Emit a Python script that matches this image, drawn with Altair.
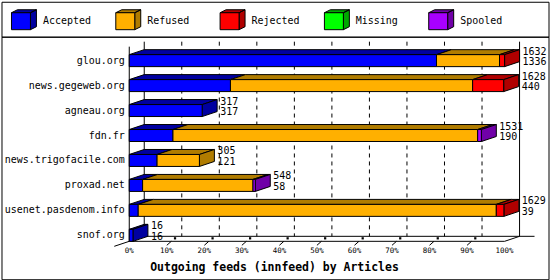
import altair as alt
import pandas as pd

# ---------------- data ----------------
hosts = ["glou.org", "news.gegeweb.org", "agneau.org", "fdn.fr",
         "news.trigofacile.com", "proxad.net", "usenet.pasdenom.info", "snof.org"]
accepted = [1336, 440, 317, 190, 121, 58, 39, 16]
refused = [274, 1053, 0, 1325, 184, 480, 1557, 0]
rejected = [22, 135, 0, 0, 0, 0, 33, 0]
missing = [0, 0, 0, 0, 0, 0, 0, 0]
spooled = [0, 0, 0, 16, 0, 10, 0, 0]
offered = [1632, 1628, 317, 1531, 305, 548, 1629, 16]

categories = ["Accepted", "Refused", "Rejected", "Missing", "Spooled"]
tick_values = [0, 10, 20, 30, 40, 50, 60, 70, 80, 90, 100]
tick_labels = ["0%", "10%", "20%", "30%", "40%", "50%", "60%", "70%", "80%", "90%", "100%"]
title_text = "Outgoing feeds (innfeed) by Articles"

# ---------------- style ----------------
front_colors = ["#0000FF", "#FFB000", "#FF0000", "#00FF00", "#A800FF"]
dark_colors = ["#0000A0", "#B07C00", "#B00000", "#00A800", "#7000A8"]
MONO = "DejaVu Sans Mono"

X_RANGE = [128, 504]
Y_RANGE = [24, 199]
HALF = 0.24           # half bar height (row units)
DY = 0.2              # 3D depth, vertical (row units)
DX = 15 * 100 / 376   # 3D depth, horizontal (percent units)

xs = alt.Scale(domain=[0, 100], range=X_RANGE, nice=False, zero=False)
ys = alt.Scale(domain=[0, 7], range=Y_RANGE, nice=False, zero=False)
front_scale = alt.Scale(domain=categories, range=front_colors)
dark_scale = alt.Scale(domain=categories, range=dark_colors)

series = dict(zip(categories, [accepted, refused, rejected, missing, spooled]))
vmax = max(offered)

seg_rows, top_rows, side_rows = [], [], []
for i, h in enumerate(hosts):
    cum = 0
    last = None
    for c in categories:
        v = series[c][i]
        if v <= 0:
            continue
        x0 = cum / vmax * 100
        cum += v
        x1 = cum / vmax * 100
        sid = f"{i}-{c}"
        seg_rows.append(dict(i=i, cat=c, x0=x0, x1=x1, yt=i - HALF, yb=i + HALF))
        top_rows.append(dict(sid=sid, cat=c, y=i - HALF, xa=x0, xb=x1))
        top_rows.append(dict(sid=sid, cat=c, y=i - HALF - DY, xa=x0 + DX, xb=x1 + DX))
        last = (c, x1)
    if last:
        c, x1 = last
        side_rows.append(dict(i=i, cat=c, x=x1, yt=i - HALF, yb=i + HALF))
        side_rows.append(dict(i=i, cat=c, x=x1 + DX, yt=i - HALF - DY, yb=i + HALF - DY))

seg_df = pd.DataFrame(seg_rows)
top_df = pd.DataFrame(top_rows)
side_df = pd.DataFrame(side_rows)

label_df = pd.DataFrame({
    "i": list(range(len(hosts))),
    "host": hosts,
    "lx": [o / vmax * 100 + DX for o in offered],
    "top": [str(o) for o in offered],
    "bottom": [str(a) for a in accepted],
})

TOP_Y = -0.76
FLOOR_F = 7 + HALF
FLOOR_B = 7 + HALF - DY
solid_lines = pd.DataFrame([
    dict(x=0, x2=0, y=TOP_Y + DY, y2=FLOOR_F),
    dict(x=DX, x2=DX, y=TOP_Y, y2=FLOOR_B),
    dict(x=100 + DX, x2=100 + DX, y=TOP_Y, y2=FLOOR_B),
    dict(x=0, x2=100, y=FLOOR_F, y2=FLOOR_F),
    dict(x=DX, x2=100 + 2 * DX, y=FLOOR_B, y2=FLOOR_B),
    dict(x=-DX, x2=0, y=FLOOR_F + DY, y2=FLOOR_F),
    dict(x=100, x2=100 + DX, y=FLOOR_F, y2=FLOOR_B),
])
grid_df = pd.DataFrame({"x": [v + DX for v in tick_values[1:-1]]})
grid_df["x2"] = grid_df["x"]
grid_df["y"] = TOP_Y
grid_df["y2"] = FLOOR_B

ticks_df = pd.DataFrame({"v": tick_values, "lab": tick_labels})
tick_marks = pd.DataFrame({"x": tick_values[1:-1]})
tick_marks["x2"] = tick_marks["x"] + 0.3 * DX
tick_marks["y"] = FLOOR_F + 0.16
tick_marks["y2"] = FLOOR_F
tick_marks["sx"] = tick_marks["x"] + 0.55 * DX
tick_marks["sy"] = FLOOR_F - 0.12

def X(f):
    return alt.X(f, scale=xs, axis=None)

def Y(f):
    return alt.Y(f, scale=ys, axis=None)

grid = alt.Chart(grid_df).mark_rule(color="black", strokeWidth=1, strokeDash=[4, 4]).encode(
    x=X("x:Q"), x2="x2:Q", y=Y("y:Q"), y2="y2:Q")
frame = alt.Chart(solid_lines).mark_rule(color="black", strokeWidth=1).encode(
    x=X("x:Q"), x2="x2:Q", y=Y("y:Q"), y2="y2:Q")
tick_rules = alt.Chart(tick_marks).mark_rule(color="black", strokeWidth=1).encode(
    x=X("x:Q"), x2="x2:Q", y=Y("y:Q"), y2="y2:Q")
tick_sq = alt.Chart(tick_marks).mark_square(color="black", size=5, opacity=1).encode(
    x=X("sx:Q"), y=Y("sy:Q"))

top_faces = alt.Chart(top_df).mark_area(orient="horizontal", stroke="black", strokeWidth=1,
                                        opacity=1, fillOpacity=1).encode(
    y=Y("y:Q"), x=X("xa:Q"), x2="xb:Q", detail="sid:N",
    fill=alt.Fill("cat:N", scale=dark_scale, legend=None))
side_faces = alt.Chart(side_df).mark_area(orient="vertical", stroke="black", strokeWidth=1,
                                          opacity=1, fillOpacity=1).encode(
    x=X("x:Q"), y=Y("yt:Q"), y2="yb:Q", detail="i:N",
    fill=alt.Fill("cat:N", scale=dark_scale, legend=None))
front_faces = alt.Chart(seg_df).mark_rect(stroke="black", strokeWidth=1).encode(
    x=X("x0:Q"), x2="x1:Q", y=Y("yt:Q"), y2="yb:Q",
    fill=alt.Fill("cat:N", scale=front_scale, legend=None))

host_text = alt.Chart(label_df).mark_text(align="right", baseline="middle", font=MONO,
                                          fontSize=10, color="black").encode(
    x=alt.value(123.5), y=Y("i:Q"), text="host:N")
top_text = alt.Chart(label_df).mark_text(align="left", baseline="middle", font=MONO,
                                         fontSize=10, dx=3, dy=-9, color="black").encode(
    x=X("lx:Q"), y=Y("i:Q"), text="top:N")
bot_text = alt.Chart(label_df).mark_text(align="left", baseline="middle", font=MONO,
                                         fontSize=10, dx=3, dy=1.5, color="black").encode(
    x=X("lx:Q"), y=Y("i:Q"), text="bottom:N")
tick_text = alt.Chart(ticks_df).mark_text(align="center", baseline="middle", font=MONO,
                                          fontSize=7.5, color="black").encode(
    x=X("v:Q"), y=alt.value(215), text="lab:N")
title = alt.Chart(pd.DataFrame({"t": [title_text]})).mark_text(
    align="center", baseline="middle", font=MONO, fontSize=11.5, fontWeight="bold",
    color="black").encode(x=alt.value(273.5), y=alt.value(232), text="t:N")

main = alt.layer(grid, frame, tick_rules, tick_sq, top_faces, side_faces, front_faces,
                 host_text, top_text, bot_text, tick_text, title).resolve_scale(
    fill="independent").properties(width=548, height=243)

# ---------------- legend ----------------
FRONT_PATH = "M-9.5,-8.5H9.5V8.5H-9.5Z"
DARK_PATH = "M-9.5,-8.5L-3.5,-11.5H15.5L9.5,-8.5Z M9.5,-8.5L15.5,-11.5V5.5L9.5,8.5Z"
leg_df = pd.DataFrame({"cat": categories})
lx = alt.X("cat:N", scale=alt.Scale(type="point", domain=categories,
                                    range=[19.5, 437.5], padding=0), axis=None)
leg_dark = alt.Chart(leg_df).mark_point(shape=DARK_PATH, size=4, filled=True, stroke="black",
                                        strokeWidth=1, opacity=1).encode(
    x=lx, y=alt.value(19.5), fill=alt.Fill("cat:N", scale=dark_scale, legend=None))
leg_front = alt.Chart(leg_df).mark_point(shape=FRONT_PATH, size=4, filled=True, stroke="black",
                                         strokeWidth=1, opacity=1).encode(
    x=lx, y=alt.value(19.5), fill=alt.Fill("cat:N", scale=front_scale, legend=None))
leg_text = alt.Chart(leg_df).mark_text(align="left", baseline="middle", dx=22, font=MONO,
                                       fontSize=10, color="black").encode(
    x=lx, y=alt.value(19.5), text="cat:N")
legend = alt.layer(leg_dark, leg_front, leg_text).resolve_scale(
    fill="independent").properties(width=548, height=35)

chart = alt.vconcat(legend, main, spacing=0, bounds="flush").properties(
    padding=0.5, background="white").configure_view(stroke="black", strokeWidth=1)

chart.save("out.html", embed_options={"renderer": "svg", "actions": False})
